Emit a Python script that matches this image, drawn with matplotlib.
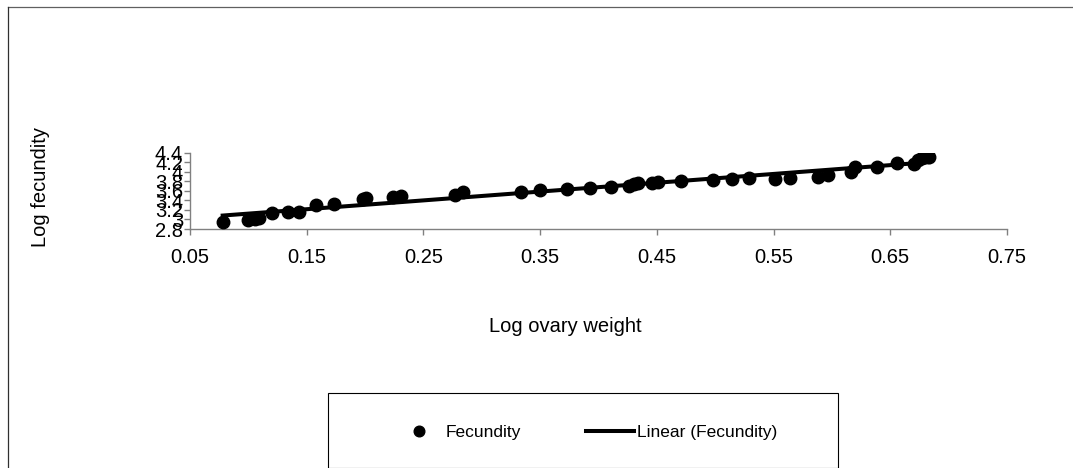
import matplotlib
matplotlib.use("Agg")
import matplotlib.pyplot as plt
from matplotlib.lines import Line2D
from matplotlib.patches import Rectangle
import numpy as np

plt.rcParams['font.family'] = ['Liberation Sans', 'DejaVu Sans']

# log ovary weight vs log fecundity
log_ovary = [0.078, 0.100, 0.106, 0.109, 0.120, 0.134, 0.143, 0.158, 0.173,
             0.198, 0.201, 0.224, 0.231, 0.277, 0.284, 0.334, 0.350, 0.373,
             0.393, 0.411, 0.426, 0.430, 0.434, 0.446, 0.451, 0.471, 0.498,
             0.514, 0.529, 0.551, 0.564, 0.588, 0.597, 0.616, 0.620, 0.639,
             0.656, 0.670, 0.674, 0.677, 0.683]
log_fecundity = [2.95, 2.99, 3.01, 3.03, 3.13, 3.15, 3.16, 3.30, 3.33,
                 3.42, 3.45, 3.48, 3.50, 3.52, 3.58, 3.58, 3.62, 3.64,
                 3.66, 3.69, 3.70, 3.75, 3.77, 3.77, 3.78, 3.81, 3.82,
                 3.85, 3.86, 3.85, 3.87, 3.90, 3.94, 3.99, 4.10, 4.10,
                 4.19, 4.17, 4.25, 4.29, 4.32]

x_ticks = [0.05, 0.15, 0.25, 0.35, 0.45, 0.55, 0.65, 0.75]
y_ticks = [2.8, 3.0, 3.2, 3.4, 3.6, 3.8, 4.0, 4.2, 4.4]

x = np.array(log_ovary)
y = np.array(log_fecundity)
slope, intercept = np.polyfit(x, y, 1)
xfit = np.array([x.min(), x.max()])

fig = plt.figure(figsize=(10.73, 4.68), dpi=100)
ax = fig.add_axes([190 / 1073, 1 - 229 / 468, 817 / 1073, 76.3 / 468])

ax.plot(x, y, 'o', color='black', markersize=9, label='Fecundity', zorder=3)
ax.plot(xfit, slope * xfit + intercept, '-', color='black', linewidth=2.9,
        label='Linear (Fecundity)', zorder=2)

ax.set_xlim(0.05, 0.75)
ax.set_ylim(2.8, 4.4)
ax.set_xticks(x_ticks)
ax.set_xticklabels(['%.2f' % v for v in x_ticks])
ax.set_yticks(y_ticks)
ax.set_yticklabels(['%g' % v for v in y_ticks])
for s in ['top', 'right']:
    ax.spines[s].set_visible(False)
for s in ['left', 'bottom']:
    ax.spines[s].set_color('#808080')
    ax.spines[s].set_linewidth(1.0)
ax.tick_params(axis='both', colors='#808080', labelcolor='black', labelsize=14.5,
               length=4, width=1.0, direction='out')
ax.tick_params(axis='x', pad=10)
ax.tick_params(axis='y', pad=1)

fig.text(41 / 1073, 1 - 187 / 468, 'Log fecundity', rotation=90, ha='center',
         va='center', fontsize=14.5)
fig.text(565 / 1073, 1 - 327 / 468, 'Log ovary weight', ha='center',
         va='center', fontsize=14.5)

# legend box
fig.add_artist(Rectangle((328 / 1073, 0.5 / 468), 510 / 1073, 74.5 / 468,
                         transform=fig.transFigure, fill=False,
                         edgecolor='black', linewidth=0.8))
fig.legend(loc='center', bbox_to_anchor=(586 / 1073, 1 - 432.7 / 468),
           ncol=2, frameon=False, fontsize=12.5, handlelength=2.76,
           handletextpad=0.2, columnspacing=3.7, borderpad=0, markerscale=0.85)

# outer chart frame (only top and left are inside the picture)
fig.add_artist(Line2D([7.5 / 1073, 1.0], [1 - 6.5 / 468, 1 - 6.5 / 468],
                      transform=fig.transFigure, color='#606060', linewidth=0.9))
fig.add_artist(Line2D([7.5 / 1073, 7.5 / 1073], [0.0, 1 - 6.5 / 468],
                      transform=fig.transFigure, color='#303030', linewidth=0.9))

fig.savefig('out.png', dpi=100)
